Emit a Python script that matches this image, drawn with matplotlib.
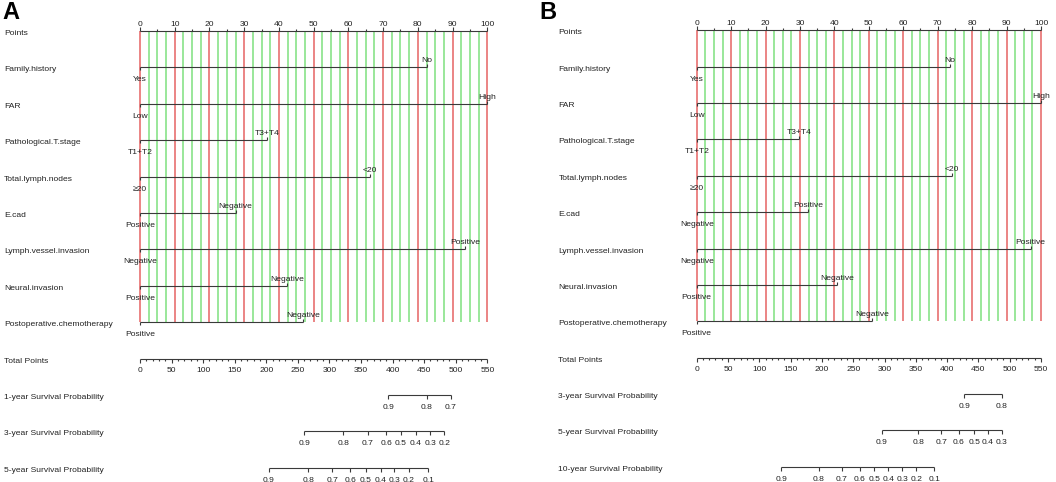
import matplotlib
matplotlib.use('Agg')
import matplotlib.pyplot as plt
import numpy as np

plt.rcParams['font.family'] = ['Liberation Sans', 'DejaVu Sans']

# ---------------- data ----------------
variables = ["Family.history", "FAR", "Pathological.T.stage", "Total.lymph.nodes",
             "E.cad", "Lymph.vessel.invasion", "Neural.invasion",
             "Postoperative.chemotherapy"]

# Panel A
a_low_labels = ["Yes", "Low", "T1+T2", "\u226520", "Positive", "Negative", "Positive", "Positive"]
a_high_labels = ["No", "High", "T3+T4", "<20", "Negative", "Positive", "Negative", "Negative"]
a_high_points = [82.6, 100, 36.7, 66.2, 27.5, 93.6, 42.4, 47.0]
a_surv_names = ["1-year Survival Probability", "3-year Survival Probability",
                "5-year Survival Probability"]
a_surv_labels = [["0.9", "0.8", "0.7"],
                 ["0.9", "0.8", "0.7", "0.6", "0.5", "0.4", "0.3", "0.2"],
                 ["0.9", "0.8", "0.7", "0.6", "0.5", "0.4", "0.3", "0.2", "0.1"]]
a_surv_total = [[393.2, 454.5, 492.1],
                [260.2, 322.0, 360.6, 389.6, 413.3, 437.1, 459.3, 481.9],
                [204.3, 266.5, 304.5, 332.6, 357.9, 381.2, 402.7, 426.0, 456.6]]

# Panel B
b_low_labels = ["Yes", "Low", "T1+T2", "\u226520", "Negative", "Negative", "Positive", "Positive"]
b_high_labels = ["No", "High", "T3+T4", "<20", "Positive", "Positive", "Negative", "Negative"]
b_high_points = [73.6, 100, 29.8, 74.1, 32.4, 97.0, 40.7, 51.0]
b_surv_names = ["3-year Survival Probability", "5-year Survival Probability",
                "10-year Survival Probability"]
b_surv_labels = [["0.9", "0.8"],
                 ["0.9", "0.8", "0.7", "0.6", "0.5", "0.4", "0.3"],
                 ["0.9", "0.8", "0.7", "0.6", "0.5", "0.4", "0.3", "0.2", "0.1"]]
b_surv_total = [[427.5, 487.4],
                [295.7, 353.8, 391.0, 418.5, 443.5, 464.8, 487.2],
                [135.0, 194.9, 231.9, 260.4, 283.5, 306.1, 328.3, 350.6, 379.4]]

points_ticks = list(range(0, 101, 10))
total_ticks = list(range(0, 551, 50))
total_max = 550

# ---------------- style ----------------
FS = 6.1
TXT = '#222222'
AXC = '#3a3a3a'
RED = '#e87575'
GREEN = '#8ee48e'
LW = 0.8

W, H = 1056, 482
fig = plt.figure(figsize=(W / 100, H / 100), dpi=100)


def make_axes(px_left, px_right, px0, px100, py0, row_px):
    ax = fig.add_axes([px_left / W, 0, (px_right - px_left) / W, 1])
    scale = (px100 - px0) / 100.0
    ax.set_xlim((px_left - px0) / scale, (px_right - px0) / scale)
    ax.set_ylim((H - py0) / row_px, (0 - py0) / row_px)
    ax.set_axis_off()
    return ax, scale


def draw_panel(ax, scale, row_px, name_px_x, px0, low_labels, high_labels, high_points,
               surv_names, surv_labels, surv_total):
    name_x = (name_px_x - px0) / scale
    t = lambda px: px / row_px  # pixel length -> row units
    n = len(variables)

    # grid lines
    grid = np.arange(0, 100.01, 2.5)
    reds = [g for g in grid if abs(g % 10) < 1e-9]
    greens = [g for g in grid if abs(g % 10) > 1e-9]
    ax.vlines(greens, 0, n, color=GREEN, lw=1.25, zorder=1)
    ax.vlines(reds, 0, n, color=RED, lw=1.25, zorder=1)

    # Points axis
    ax.text(name_x, 0, "Points", fontsize=FS, color=TXT, ha='left', va='baseline',
            transform=ax.transData)
    ax.texts[-1].set_position((name_x, 0))
    ax.annotate("Points", (name_x, 0), xytext=(0, -4), textcoords='offset pixels',
                fontsize=FS, color=TXT, ha='left', va='baseline')
    ax.texts[0].remove()
    ax.hlines(0, 0, 100, color=AXC, lw=LW, zorder=3)
    ax.vlines(points_ticks, 0, -t(4), color=AXC, lw=LW, zorder=3)
    ax.vlines(np.arange(5, 100, 10), 0, -t(2.5), color=AXC, lw=LW, zorder=3)
    for v in points_ticks:
        ax.annotate(str(v), (v, 0), xytext=(0, 5), textcoords='offset pixels',
                    fontsize=FS, color=TXT, ha='center', va='baseline')

    # predictors
    for i, (name, lo, hi, hp) in enumerate(zip(variables, low_labels, high_labels, high_points)):
        y = i + 1
        ax.annotate(name, (name_x, y), xytext=(0, -4), textcoords='offset pixels',
                    fontsize=FS, color=TXT, ha='left', va='baseline')
        ax.hlines(y, 0, hp, color=AXC, lw=LW, zorder=3)
        ax.vlines([hp], y, y - t(3), color=AXC, lw=LW, zorder=3)
        ax.vlines([0], y, y + t(3), color=AXC, lw=LW, zorder=3)
        ax.annotate(hi, (hp, y), xytext=(0, 5), textcoords='offset pixels',
                    fontsize=FS, color=TXT, ha='center', va='baseline')
        ax.annotate(lo, (0, y), xytext=(0, -14), textcoords='offset pixels',
                    fontsize=FS, color=TXT, ha='center', va='baseline')

    # Total points axis
    yt = n + 1
    ax.annotate("Total Points", (name_x, yt), xytext=(0, -4), textcoords='offset pixels',
                fontsize=FS, color=TXT, ha='left', va='baseline')
    f = 100.0 / total_max
    ax.hlines(yt, 0, 100, color=AXC, lw=LW, zorder=3)
    ax.vlines([v * f for v in total_ticks], yt, yt + t(4), color=AXC, lw=LW, zorder=3)
    minor = [v * f for v in range(0, total_max + 1, 10) if v % 50]
    ax.vlines(minor, yt, yt + t(2.5), color=AXC, lw=LW, zorder=3)
    for v in total_ticks:
        ax.annotate(str(v), (v * f, yt), xytext=(0, -13), textcoords='offset pixels',
                    fontsize=FS, color=TXT, ha='center', va='baseline')

    # survival axes
    for j, (sname, labs, tots) in enumerate(zip(surv_names, surv_labels, surv_total)):
        ys = yt + 1 + j
        ax.annotate(sname, (name_x, ys), xytext=(0, -4), textcoords='offset pixels',
                    fontsize=FS, color=TXT, ha='left', va='baseline')
        xs = [v * f for v in tots]
        ax.hlines(ys, min(xs), max(xs), color=AXC, lw=LW, zorder=3)
        ax.vlines(xs, ys, ys + t(4), color=AXC, lw=LW, zorder=3)
        for lab, x in zip(labs, xs):
            ax.annotate(lab, (x, ys), xytext=(0, -14), textcoords='offset pixels',
                        fontsize=FS, color=TXT, ha='center', va='baseline')


axA, sA = make_axes(0, 528, 140.0, 487.3, 31.0, 36.4)
draw_panel(axA, sA, 36.4, 4, 140.0, a_low_labels, a_high_labels, a_high_points,
           a_surv_names, a_surv_labels, a_surv_total)

axB, sB = make_axes(528, 1056, 696.7, 1041.0, 30.3, 36.37)
draw_panel(axB, sB, 36.37, 558.3, 696.7, b_low_labels, b_high_labels, b_high_points,
           b_surv_names, b_surv_labels, b_surv_total)

fig.text(2 / W, 1 - 19 / H, "A", fontsize=17, fontweight='bold', color='black',
         ha='left', va='baseline')
fig.text(539 / W, 1 - 19 / H, "B", fontsize=17, fontweight='bold', color='black',
         ha='left', va='baseline')

fig.savefig("out.png", dpi=100, facecolor='white')
